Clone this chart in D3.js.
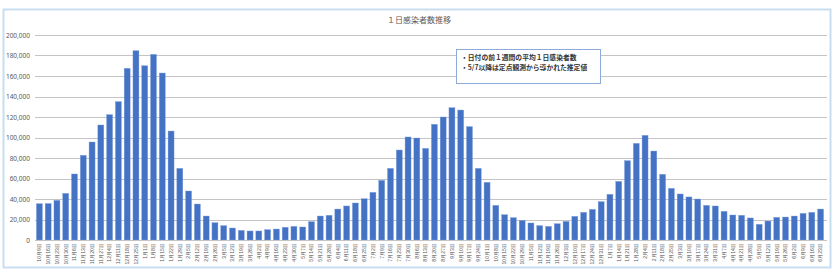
<!DOCTYPE html>
<html lang="ja">
<head>
<meta charset="UTF-8">
<title>１日感染者数推移</title>
<style>
    body { margin: 0; background: #fff; }
    svg { display: block; font-family: "Noto Sans CJK JP", "Noto Sans", sans-serif; }
</style>
</head>
<body>
<div id="chart"></div>
<script src="https://d3js.org/d3.v7.min.js"></script>
<script>
// weekly dates (Sundays), 2022-10-09 .. 2024-06-23
const dates = [
    "10月9日", "10月16日", "10月23日", "10月30日", "11月6日", "11月13日", "11月20日", "11月27日",
    "12月4日", "12月11日", "12月18日", "12月25日",
    "1月1日", "1月8日", "1月15日", "1月22日", "1月29日", "2月5日", "2月12日", "2月19日", "2月26日",
    "3月5日", "3月12日", "3月19日", "3月26日", "4月2日", "4月9日", "4月16日", "4月23日", "4月30日",
    "5月7日", "5月14日", "5月21日", "5月28日", "6月4日", "6月11日", "6月18日", "6月25日",
    "7月2日", "7月9日", "7月16日", "7月23日", "7月30日", "8月6日", "8月13日", "8月20日", "8月27日",
    "9月3日", "9月10日", "9月17日", "9月24日", "10月1日", "10月8日", "10月15日", "10月22日", "10月29日",
    "11月5日", "11月12日", "11月19日", "11月26日", "12月3日", "12月10日", "12月17日", "12月24日", "12月31日",
    "1月7日", "1月14日", "1月21日", "1月28日", "2月4日", "2月11日", "2月18日", "2月25日",
    "3月3日", "3月10日", "3月17日", "3月24日", "3月31日", "4月7日", "4月14日", "4月21日", "4月28日",
    "5月5日", "5月12日", "5月19日", "5月26日", "6月2日", "6月9日", "6月16日", "6月23日"
];

// 1日感染者数 (週平均)
const cases = [
    35400, 35600, 38700, 45500, 64400, 82600, 95600, 112200, 122300, 135000,
    167500, 184700, 170000, 181100, 162900, 106300, 69900, 47800, 35100, 23400,
    16900, 14000, 11700, 9400, 8800, 8800, 10100, 10700, 12400, 13300,
    12700, 17900, 23400, 24100, 30200, 33200, 36100, 40300, 46500, 58200,
    69900, 87800, 100500, 99500, 89400, 112900, 120000, 129100, 126800, 110600,
    69900, 56300, 33800, 24700, 21800, 19200, 16600, 14000, 13300, 15900,
    18200, 23100, 27000, 29900, 37400, 44600, 57200, 77400, 94300, 102100,
    86800, 64100, 50400, 44900, 42000, 40000, 33800, 33200, 28000, 24400,
    24100, 21500, 15300, 18500, 22100, 22400, 23400, 26000, 27000, 30200
];

const yTicks = [0, 20000, 40000, 60000, 80000, 100000, 120000, 140000, 160000, 180000, 200000];

const title = "１日感染者数推移";
const notes = ["・日付の前１週間の平均１日感染者数", "・5/7以降は定点観測から導かれた推定値"];

const width = 835, height = 276;
const plot = { left: 35, right: 825, top: 35, bottom: 240 };

const svg = d3.select("#chart").append("svg")
    .attr("width", width)
    .attr("height", height);

// chart frame
svg.append("rect")
    .attr("x", 3.5).attr("y", 9.5)
    .attr("width", 827).attr("height", 258)
    .attr("fill", "#fff")
    .attr("stroke", "#c9ddf0")
    .attr("stroke-width", 2);

svg.append("text")
    .attr("x", 419).attr("y", 22.5)
    .attr("text-anchor", "middle")
    .attr("font-size", 8)
    .attr("fill", "#595959")
    .text(title);

const x = d3.scaleBand()
    .domain(dates)
    .range([plot.left, plot.right])
    .paddingInner(0.32)
    .paddingOuter(0.16);

const y = d3.scaleLinear()
    .domain([0, 200000])
    .range([plot.bottom, plot.top]);

// gridlines
svg.append("g")
    .selectAll("line")
    .data(yTicks.slice(1))
    .join("line")
    .attr("x1", plot.left).attr("x2", plot.right + 2)
    .attr("y1", d => Math.round(y(d)) + 0.5)
    .attr("y2", d => Math.round(y(d)) + 0.5)
    .attr("stroke", "#c4c4c4")
    .attr("stroke-width", 1);

// y axis labels
const yAxis = d3.axisLeft(y)
    .tickValues(yTicks)
    .tickSize(0)
    .tickPadding(5)
    .tickFormat(d3.format(","));

svg.append("g")
    .attr("transform", `translate(${plot.left},0)`)
    .call(yAxis)
    .call(g => g.select(".domain").remove())
    .call(g => g.selectAll("text")
        .attr("font-size", 6.5)
        .attr("fill", "#595959")
        .attr("font-family", "Noto Sans, sans-serif"));

// bars
svg.append("g")
    .selectAll("rect")
    .data(cases)
    .join("rect")
    .attr("x", (d, i) => x(dates[i]))
    .attr("y", d => y(d))
    .attr("width", x.bandwidth())
    .attr("height", d => y(0) - y(d))
    .attr("fill", "#4472c4")
    .attr("stroke", "#7ea0dc")
    .attr("stroke-width", 0.4);

// x axis
const xAxis = d3.axisBottom(x).tickSize(0).tickPadding(0);

svg.append("g")
    .attr("transform", `translate(0,${plot.bottom})`)
    .call(xAxis)
    .call(g => g.select(".domain")
        .attr("d", `M${plot.left},0.5H${plot.right + 2}`)
        .attr("stroke", "#c4c4c4"))
    .call(g => g.selectAll("text")
        .attr("font-size", 5.2)
        .attr("fill", "#595959")
        .attr("text-anchor", "end")
        .attr("dy", "0.35em")
        .attr("transform", "translate(0,3) rotate(-90)"));

// note box
const box = svg.append("g");
box.append("rect")
    .attr("x", 456.5).attr("y", 49.5)
    .attr("width", 144).attr("height", 34)
    .attr("fill", "#fff")
    .attr("stroke", "#8eaadb")
    .attr("stroke-width", 1);

box.selectAll("text")
    .data(notes)
    .join("text")
    .attr("x", 461)
    .attr("y", (d, i) => 59.5 + i * 10.6)
    .attr("font-size", 6.8)
    .attr("font-weight", "bold")
    .attr("fill", "#333")
    .text(d => d);
</script>
</body>
</html>
